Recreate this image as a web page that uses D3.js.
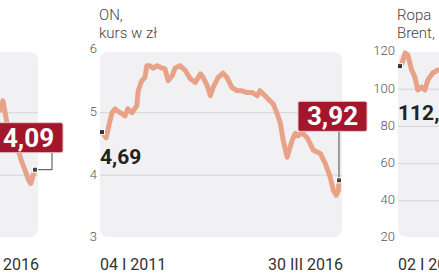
<!DOCTYPE html>
<html>
<head>
<meta charset="utf-8">
<script src="https://cdn.jsdelivr.net/npm/d3@7"></script>
<style>
  html, body { margin: 0; padding: 0; background: #fff; overflow: hidden; }
  svg { display: block; }
</style>
</head>
<body>
<svg id="chart"></svg>
<script>
const width = 439, height = 274;

// ON, kurs w zł (middle panel)
const onDates = ['2011-01-04','2011-02-06','2011-03-25','2011-04-20','2011-05-30','2011-07-09','2011-07-31','2011-09-02','2011-10-12','2011-10-23','2011-11-21','2011-12-16','2012-01-01','2012-01-26','2012-02-21','2012-03-25','2012-05-04','2012-05-26','2012-06-21','2012-07-24','2012-08-15','2012-09-24','2012-11-07','2012-12-17','2013-01-26','2013-03-08','2013-03-30','2013-05-02','2013-05-27','2013-06-18','2013-07-28','2013-09-06','2013-10-09','2013-11-18','2013-12-28','2014-02-06','2014-03-18','2014-05-01','2014-06-10','2014-07-02','2014-08-11','2014-09-20','2014-10-16','2014-11-18','2014-12-13','2015-01-05','2015-02-06','2015-03-18','2015-04-13','2015-05-05','2015-06-07','2015-07-17','2015-09-06','2015-10-31','2015-12-10','2016-01-19','2016-02-14','2016-03-07','2016-03-25','2016-03-30'];
const onValues = [4.69,4.60,5.00,5.06,5.00,4.95,5.06,5.00,5.11,5.35,5.51,5.56,5.75,5.75,5.71,5.75,5.71,5.70,5.51,5.59,5.71,5.75,5.67,5.54,5.48,5.62,5.56,5.43,5.27,5.40,5.56,5.63,5.56,5.40,5.35,5.35,5.32,5.32,5.27,5.35,5.27,5.19,5.14,4.98,4.83,4.56,4.29,4.56,4.67,4.63,4.68,4.60,4.40,4.35,4.19,3.97,3.76,3.68,3.76,3.92];

// panel on the left (only its end is visible)
const leftDates = ['2015-03-01','2015-06-20','2015-07-15','2015-08-20','2015-10-10','2015-11-25','2015-12-10','2016-01-10','2016-02-08','2016-02-25','2016-03-10','2016-03-30'];
const leftValues = [4.90,5.04,5.19,4.80,4.45,4.35,4.24,4.08,3.92,3.87,3.97,4.09];

// Ropa Brent (right panel, only its start is visible)
const brentDates = ['2012-01-02','2012-01-16','2012-02-04','2012-02-22','2012-03-18','2012-04-08','2012-04-27','2012-05-22','2012-06-12','2012-07-02','2012-08-03','2012-09-06','2012-11-01','2013-02-01','2013-06-01','2013-10-01','2014-03-01','2014-06-20','2014-10-01','2015-01-15','2015-05-15','2015-09-01','2016-01-20','2016-03-30'];
const brentValues = [112.4,114.1,119.5,118.4,110.3,106.6,99.6,101.2,99.6,105.0,108.7,110.3,110,115,103,110,109,114,94,48,66,48,30,39];

const onTicks = [3, 4, 5, 6];
const onGrid = [4, 5];
const brentTicks = [20, 40, 60, 80, 100, 120];
const brentGrid = [40, 60, 80, 100];

const parse = d3.timeParse('%Y-%m-%d');

const svg = d3.select('#chart')
  .attr('width', width)
  .attr('height', height)
  .attr('viewBox', [0, 0, width, height]);

function drawPanel(p) {
  const x = d3.scaleTime().domain(p.domain.map(parse)).range(p.xRange);
  const y = d3.scaleLinear().domain(p.yDomain).range([238, p.yTop]);
  const data = p.dates.map((d, i) => ({ date: parse(d), value: p.values[i] }));
  const g = svg.append('g');

  // background
  g.append('rect')
    .attr('x', p.xRange[0] - 2).attr('y', 52)
    .attr('width', p.xRange[1] - p.xRange[0] + 5).attr('height', 185)
    .attr('rx', 8)
    .style('fill', '#f1f1f3');

  // grid
  g.selectAll('.grid').data(p.grid).join('line')
    .attr('x1', p.xRange[0] - 2).attr('x2', p.xRange[1] + 3)
    .attr('y1', (d) => y(d)).attr('y2', (d) => y(d))
    .style('stroke', '#d6d6d8').style('stroke-width', 1);

  // y labels
  g.selectAll('.tick').data(p.ticks).join('text')
    .attr('x', p.xRange[0] - 5).attr('y', (d) => y(d))
    .attr('text-anchor', 'end').attr('dominant-baseline', 'middle')
    .style('font-family', 'Roboto, sans-serif').style('font-weight', 300)
    .style('font-size', '13px').style('fill', '#555')
    .text((d) => d);

  // titles
  (p.title || []).forEach((t, i) => {
    g.append('text').attr('x', p.xRange[0] - 3).attr('y', 20 + i * 18)
      .style('font-family', 'Roboto, sans-serif').style('font-weight', 300)
      .style('font-size', '15px').style('fill', '#444').text(t);
  });

  // x labels
  if (p.startLabel) {
    g.append('text').attr('x', p.xRange[0] - 2).attr('y', 270)
      .style('font-family', 'Roboto, sans-serif').style('font-size', '16px').style('fill', '#333')
      .text(p.startLabel);
  }
  g.append('text').attr('x', p.xRange[1] + 4).attr('y', 270).attr('text-anchor', 'end')
    .style('font-family', 'Roboto, sans-serif').style('font-size', '16px').style('fill', '#333')
    .text(p.endLabel);

  // line
  const line = d3.line().x((d) => x(d.date)).y((d) => y(d.value));
  g.append('path').datum(data)
    .attr('d', line)
    .style('fill', 'none').style('stroke', '#e8a287').style('stroke-width', 5)
    .style('stroke-linejoin', 'round').style('stroke-linecap', 'round');

  const first = data[0], last = data[data.length - 1];

  // start marker + value
  if (p.startValue) {
    g.append('rect')
      .attr('x', x(first.date) - 2.5).attr('y', y(first.value) - 2.5)
      .attr('width', 5).attr('height', 5)
      .style('fill', '#333').style('stroke', '#fff').style('stroke-width', 1);
    g.append('text')
      .attr('x', x(first.date) - 2).attr('y', y(first.value) + p.startLabelDy)
      .style('font-family', 'Roboto, sans-serif').style('font-weight', 700)
      .style('font-size', '21px').style('fill', '#222')
      .text(p.startValue);
  }

  // end callout
  if (p.endValue) {
    const ex = x(last.date), ey = y(last.value);
    const boxRight = ex + 28, boxBottom = ey - p.boxDy;
    g.append('path')
      .attr('d', `M${ex},${ey}H${p.connX(ex)}V${boxBottom}`)
      .style('fill', 'none').style('stroke', '#444').style('stroke-width', 1);
    g.append('rect')
      .attr('x', boxRight - 69).attr('y', boxBottom - 30)
      .attr('width', 69).attr('height', 30).attr('rx', 2)
      .style('fill', '#a3172d').style('stroke', '#e9c4ca').style('stroke-width', 1);
    g.append('text')
      .attr('x', boxRight - 34.5).attr('y', boxBottom - 6)
      .attr('text-anchor', 'middle')
      .style('font-family', 'Roboto, sans-serif').style('font-weight', 700)
      .style('font-size', '26px').style('fill', '#fff')
      .text(p.endValue);
    g.append('rect')
      .attr('x', ex - 2.5).attr('y', ey - 2.5).attr('width', 5).attr('height', 5)
      .style('fill', '#444').style('stroke', '#fff').style('stroke-width', 1);
  }
}

drawPanel({
  dates: leftDates, values: leftValues,
  domain: ['2011-01-04', '2016-03-30'], xRange: [-202, 35],
  yDomain: [3, 6], yTop: 50, ticks: [], grid: onGrid,
  startLabel: '', endLabel: '30 III 2016', startValue: '', startLabelDy: 32,
  endValue: '4,09', boxDy: 17, connX: (ex) => ex + 17,
});

drawPanel({
  dates: onDates, values: onValues, title: ['ON,', 'kurs w zł'],
  domain: ['2011-01-04', '2016-03-30'], xRange: [102, 339],
  yDomain: [3, 6], yTop: 50, ticks: onTicks, grid: onGrid,
  startLabel: '04 I 2011', endLabel: '30 III 2016', startValue: '4,69', startLabelDy: 32,
  endValue: '3,92', boxDy: 49, connX: (ex) => ex,
});

drawPanel({
  dates: brentDates, values: brentValues, title: ['Ropa', 'Brent,'],
  domain: ['2012-01-02', '2016-03-30'], xRange: [400, 637],
  yDomain: [20, 120], yTop: 52, ticks: brentTicks, grid: brentGrid,
  startLabel: '02 I 2012', endLabel: '30 III 2016', startValue: '112,4', startLabelDy: 54,
  endValue: '', boxDy: 40, connX: (ex) => ex,
});
</script>
</body>
</html>
